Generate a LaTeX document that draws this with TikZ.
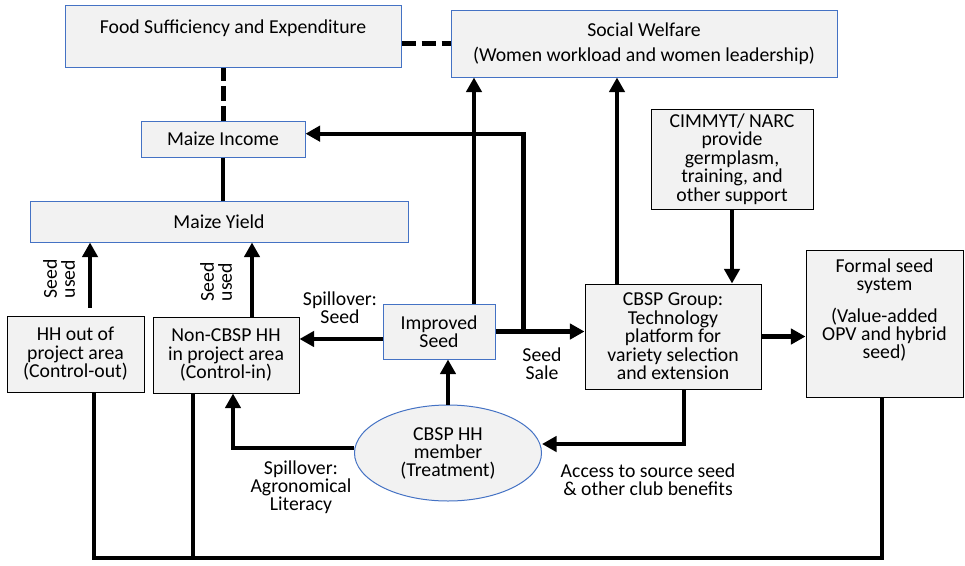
\documentclass[tikz,border=0pt]{standalone}
\usepackage{fontspec}
\setmainfont{Carlito}
\usepackage{tikz}
\usetikzlibrary{arrows.meta,positioning,shapes.geometric}
\definecolor{boxfill}{HTML}{F2F2F2}
\definecolor{boxblue}{HTML}{4472C4}
\begin{document}
\begin{tikzpicture}[x=0.75pt,y=-0.75pt,>={Triangle[length=11pt,width=11.5pt]},
  every node/.style={font=\fontsize{14.8}{13.5}\selectfont,align=center,inner sep=0pt},
  bluebox/.style={draw=boxblue,line width=0.75pt,fill=boxfill},
  blackbox/.style={draw=black,line width=0.75pt,fill=boxfill},
  link/.style={line width=3.2pt},
  dashlink/.style={line width=3.75pt,dash pattern=on 11pt off 4pt}]
\useasboundingbox (0,0) rectangle (965,565);
% outcome boxes
\node[bluebox,minimum width=252pt,minimum height=46.5pt,label={[yshift=6pt]center:Food Sufficiency and Expenditure}] (food) at (233,36) {};
\node[bluebox,minimum width=289.5pt,minimum height=50.25pt,font=\fontsize{14.8}{18.75}\selectfont] (social) at (644,43.5) {Social Welfare\\(Women workload and women leadership)};
\node[bluebox,minimum width=123pt,minimum height=27pt] (income) at (223,139) {Maize Income};
\node[bluebox,minimum width=283.5pt,minimum height=30.75pt] (yield) at (219,221.5) {Maize Yield};
\node[bluebox,minimum width=84pt,minimum height=41.25pt,font=\fontsize{14.8}{12.5}\selectfont] (improved) at (439,331.5) {Improved\\Seed};
% actors
\node[blackbox,minimum width=102.75pt,minimum height=57pt,font=\fontsize{14.8}{13.9}\selectfont] (hhout) at (75.5,354) {HH out of\\project area\\(Control-out)};
\node[blackbox,minimum width=109.5pt,minimum height=57pt,font=\fontsize{14.8}{13.9}\selectfont] (noncbsp) at (226,355) {Non-CBSP HH\\in project area\\(Control-in)};
\node[blackbox,minimum width=121.5pt,minimum height=75pt,font=\fontsize{14.8}{13.9}\selectfont] (cimmyt) at (732,159) {CIMMYT/ NARC\\provide\\germplasm,\\training, and\\other support};
\node[blackbox,minimum width=132pt,minimum height=78.75pt,font=\fontsize{14.8}{13.9}\selectfont] (group) at (673,336.5) {CBSP Group:\\Technology\\platform for\\variety selection\\and extension};
\node[blackbox,minimum width=117.75pt,minimum height=110.25pt,label={[yshift=10pt]center:Formal seed\\system\\[10.5pt](Value-added\\OPV and hybrid\\seed)}] (formal) at (884.5,323.5) {};
\node[ellipse,draw=boxblue,line width=0.75pt,fill=boxfill,minimum width=140.25pt,minimum height=72pt] (hh) at (448,453) {CBSP HH\\member\\(Treatment)};
% edge labels
\node[rotate=90] (usedout) at (59,279) {Seed\\used};
\node[rotate=90] (usedin) at (216,282) {Seed\\used};
\node (spillseed) at (340,308) {Spillover:\\Seed};
\node (sale) at (542,364) {Seed\\Sale};
\node (spillagro) at (301,487) {Spillover:\\Agronomical\\Literacy};
\node (access) at (648,480) {Access to source seed\\\& other club benefits};
% connectors
\coordinate (outtop) at ([xshift=10.9pt]hhout.north);
\coordinate (intop) at ([xshift=19.5pt]noncbsp.north);
\coordinate (impleft) at ([yshift=-5.6pt]improved.west);
\coordinate (imptop) at ([xshift=26.25pt]improved.north);
\coordinate (branch) at ([xshift=21pt]improved.east);
\coordinate (grptop) at ([xshift=-42pt]group.north);
\coordinate (grpbottom) at ([xshift=8.25pt]group.south);
\coordinate (ncbottom) at ([xshift=5.25pt]noncbsp.south);
\coordinate (floor) at (0,558);
\coordinate (outfoot) at ([xshift=13.9pt]hhout.south);
\coordinate (infoot) at ([xshift=-24.75pt]noncbsp.south);
\coordinate (formalfoot) at ([xshift=-2pt]formal.south);
\draw[dashlink] (food.east |- social.west) -- (social.west);
\draw[dashlink] (income.north) -- (income.north |- food.south);
\draw[link] (income.south) -- (income.south |- yield.north);
\draw[link,->,shorten <=6pt] (outtop) -- (outtop |- yield.south);
\draw[link,->] (intop) -- (intop |- yield.south);
\draw[link,->] (impleft) -- (impleft -| noncbsp.east);
\draw[link,->] (improved.east) -- (improved.east -| group.west);
\draw[link,->] (branch) |- ([yshift=4pt]income.east);
\draw[link,->] (imptop) -- (imptop |- social.south);
\draw[link,->] (grptop) -- (grptop |- social.south);
\draw[link,->] (cimmyt.south) -- (cimmyt.south |- group.north);
\draw[link,->] (group.east) -- (group.east -| formal.west);
\draw[link,->] (hh.north) -- (hh.north |- improved.south);
\draw[link,->] ([yshift=3.75pt]hh.west) -| (ncbottom);
\draw[link,->] (grpbottom) |- ([yshift=6.75pt]hh.east);
\draw[link] (outfoot) |- (floor -| formalfoot) -- (formalfoot);
\draw[link] (infoot) -- (infoot |- floor);
\end{tikzpicture}
\end{document}
